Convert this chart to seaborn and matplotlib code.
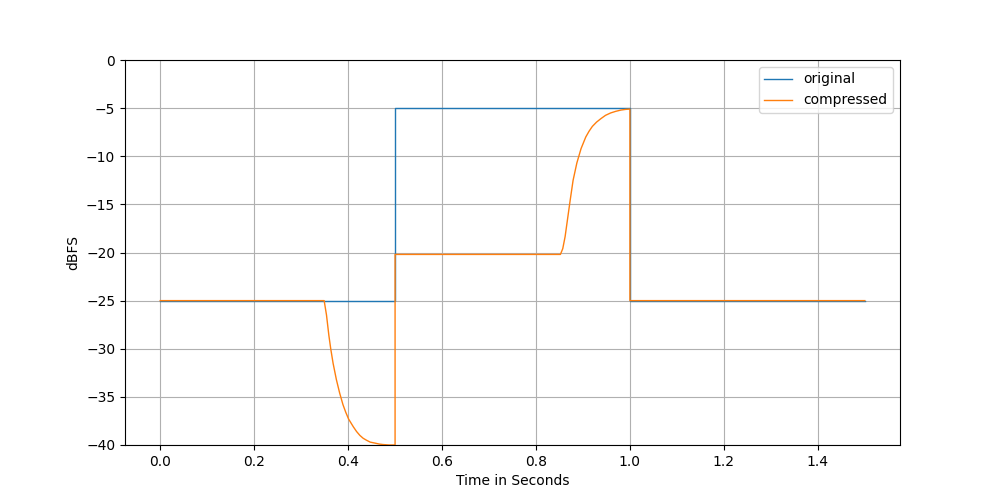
import matplotlib
matplotlib.use("Agg")
import matplotlib.pyplot as plt
import seaborn as sns
import pandas as pd

# original signal level (step input)
orig_t = [0.0, 0.5, 0.5, 1.0, 1.0, 1.5]
orig_db = [-25, -25, -5, -5, -25, -25]

# compressor output
comp_t = [0.0, 0.349, 0.354, 0.359, 0.363, 0.368, 0.375, 0.382, 0.389,
          0.395, 0.401, 0.411, 0.418, 0.425, 0.432, 0.439, 0.447, 0.457,
          0.466, 0.474, 0.487, 0.5,
          0.5, 0.852, 0.857, 0.862, 0.867, 0.873, 0.879, 0.887, 0.896,
          0.906, 0.913, 0.920, 0.929, 0.938, 0.948, 0.959, 0.970, 0.981,
          0.991, 1.0,
          1.0, 1.5]
comp_db = [-25, -25, -26.5, -28.6, -30.0, -31.5, -33.2, -34.6, -35.8,
           -36.6, -37.3, -38.1, -38.6, -39.0, -39.3, -39.5, -39.7, -39.8,
           -39.9, -39.95, -40.0, -40.0,
           -20.2, -20.2, -19.6, -18.35, -16.6, -14.5, -12.5, -10.7, -9.2,
           -8.0, -7.4, -6.9, -6.45, -6.1, -5.75, -5.5, -5.33, -5.2,
           -5.13, -5.1,
           -25, -25]


def main():
    orig = pd.DataFrame({"t": orig_t, "db": orig_db})
    comp = pd.DataFrame({"t": comp_t, "db": comp_db})

    fig, ax = plt.subplots(figsize=(10, 5), dpi=100)
    sns.lineplot(data=orig, x="t", y="db", sort=False, estimator=None,
                 color="tab:blue", linewidth=1, label="original", ax=ax)
    sns.lineplot(data=comp, x="t", y="db", sort=False, estimator=None,
                 color="tab:orange", linewidth=1, label="compressed", ax=ax)

    ax.set_ylim(-40, 0)
    ax.grid(True)
    ax.set_xlabel("Time in Seconds")
    ax.set_ylabel("dBFS")
    ax.legend(loc="upper right")

    fig.savefig("out.png")
    plt.close(fig)


if __name__ == "__main__":
    main()
